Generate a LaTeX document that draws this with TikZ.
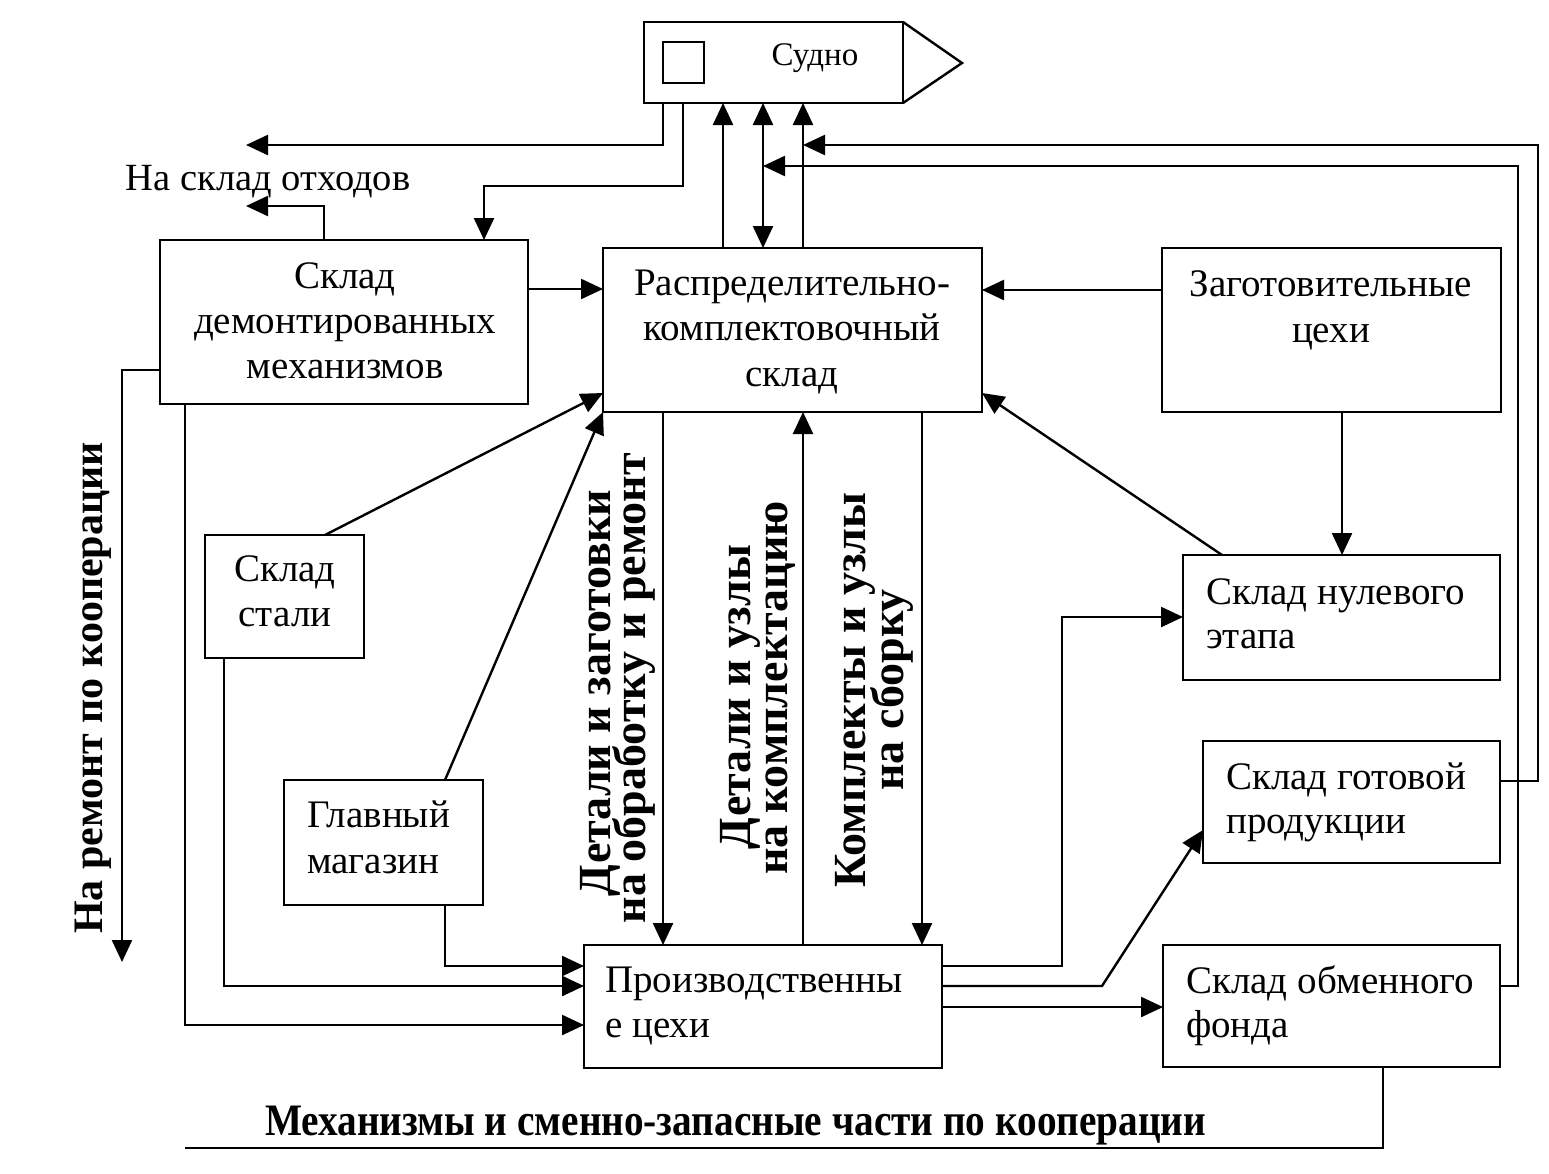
\documentclass[tikz,border=0pt]{standalone}
\usepackage{fontspec}
\usepackage{graphicx}
\setmainfont{Liberation Serif}
\usetikzlibrary{arrows.meta}
\begin{document}
\begin{tikzpicture}[x=1pt,y=-1pt,
  line width=2.4pt,
  tip/.style={-{Triangle[length=22pt,width=20pt]}},
  dtip/.style={{Triangle[length=22pt,width=20pt]}-{Triangle[length=22pt,width=20pt]}},
  box/.style={draw, line width=2.4pt, inner sep=0pt, outer sep=0pt, anchor=north west},
  lbl/.style={inner sep=0pt, anchor=base, font=\fontsize{39}{46}\selectfont},
  lblw/.style={inner sep=0pt, anchor=base west, font=\fontsize{39}{46}\selectfont},
  vlbl/.style={inner sep=0pt, anchor=base, rotate=90, font=\bfseries\fontsize{46}{46}\selectfont}]
\useasboundingbox (0,0) rectangle (1549,1173);

% boxes
\node[box, minimum width=259pt, minimum height=81pt] (sud) at (644,22) {};
\draw (sud.north east) -- (962,63) -- (sud.south east);
\node[box, minimum width=41pt, minimum height=41pt] (sq) at (663,42) {};
\node[box, minimum width=368pt, minimum height=164pt] (dem) at (160,240) {};
\node[box, minimum width=379pt, minimum height=164pt] (rks) at (603,248) {};
\node[box, minimum width=339pt, minimum height=164pt] (zag) at (1162,248) {};
\node[box, minimum width=159pt, minimum height=123pt] (stal) at (205,535) {};
\node[box, minimum width=199pt, minimum height=125pt] (glav) at (284,780) {};
\node[box, minimum width=317pt, minimum height=125pt] (nul) at (1183,555) {};
\node[box, minimum width=297pt, minimum height=122pt] (got) at (1203,741) {};
\node[box, minimum width=337pt, minimum height=122pt] (obm) at (1163,945) {};
\node[box, minimum width=358pt, minimum height=123pt] (prod) at (584,945) {};

% free ends
\coordinate (wasteA) at (246,145);
\coordinate (wasteB) at (246,206);
\coordinate (repair) at (122,962);
\coordinate (coopEnd) at (185,1148);

% texts
\node[inner sep=0pt, anchor=base, font=\fontsize{33}{38}\selectfont] (tsud) at (815,65) {Судно};
\node[inner sep=0pt, anchor=base, font=\fontsize{38.5}{44}\selectfont] (twaste) at (268,190) {На склад отходов};
\node[lbl] (tdem1) at (345,288) {Склад};
\node[lbl] (tdem2) at (345,333) {демонтированных};
\node[lbl] (tdem3) at (345,378) {механизмов};
\node[lbl] (trks1) at (792,295) {Распределительно-};
\node[lbl] (trks2) at (792,340) {комплектовочный};
\node[lbl] (trks3) at (792,386) {склад};
\node[lbl] (tzag1) at (1331,296) {Заготовительные};
\node[lbl] (tzag2) at (1331,342) {цехи};
\node[lbl] (tstal1) at (285,581) {Склад};
\node[lbl] (tstal2) at (285,626) {стали};
\node[lblw] (tglav1) at (306,827) {Главный};
\node[lblw] (tglav2) at (306,873) {магазин};
\node[lblw] (tnul1) at (1205,604) {Склад нулевого};
\node[lblw] (tnul2) at (1205,648) {этапа};
\node[lblw] (tgot1) at (1225,789) {Склад готовой};
\node[lblw] (tgot2) at (1225,833) {продукции};
\node[lblw] (tobm1) at (1185,993) {Склад обменного};
\node[lblw] (tobm2) at (1185,1037) {фонда};
\node[lblw] (tprod1) at (604,992) {Производственны};
\node[lblw] (tprod2) at (604,1037) {е цехи};

\node[vlbl, font=\bfseries\fontsize{42}{42}\selectfont] (trep) at (102,688) {На ремонт по кооперации};
\node[vlbl] (tv11) at (610,693) {Детали и заготовки};
\node[vlbl] (tv12) at (645,688) {на обработку и ремонт};
\node[vlbl] (tv21) at (750,697) {Детали и узлы};
\node[vlbl] (tv22) at (787,688) {на комплектацию};
\node[vlbl] (tv31) at (865,690) {Комплекты и узлы};
\node[vlbl] (tv32) at (903,690) {на сборку};

\node[inner sep=0pt, anchor=base west] (tcoop) at (264,1135) {\bfseries\fontsize{45}{45}\selectfont\scalebox{0.873}[1]{Механизмы и сменно-запасные части по кооперации}};

% connectors
\draw[tip] (sud.south -| 663,0) |- (wasteA);
\draw[tip] (sud.south -| 683,0) |- (484,186) -- (dem.north -| 484,0);
\draw[tip] (rks.north -| 723,0) -- (sud.south -| 723,0);
\draw[dtip] (rks.north -| 763,0) -- (sud.south -| 763,0);
\draw[tip] (rks.north -| 803,0) -- (sud.south -| 803,0);
\draw[tip] (got.east |- 0,781) -| (1538,145) -- (803,145);
\draw[tip] (obm.east |- 0,986) -| (1518,166) -- (763,166);
\draw[tip] (dem.east |- 0,289) -- (rks.west |- 0,289);
\draw[tip] (dem.north -| 324,0) |- (wasteB);
\draw[tip] (dem.west |- 0,370) -| (repair);
\draw[tip] (dem.south -| 185,0) |- (prod.west |- 0,1025);
\draw[tip] (zag.west |- 0,290) -- (rks.east |- 0,290);
\draw[tip] (zag.south -| 1342,0) -- (nul.north -| 1342,0);
\draw[tip] (nul.north -| 1222,0) -- (rks.east |- 0,393);
\draw[tip] (stal.north -| 325,0) -- (rks.west |- 0,393);
\draw[tip] (glav.north -| 445,0) -- (rks.south west);
\draw[tip] (rks.south -| 663,0) -- (prod.north -| 663,0);
\draw[tip] (prod.north -| 803,0) -- (rks.south -| 803,0);
\draw[tip] (rks.south -| 922,0) -- (prod.north -| 922,0);
\draw[tip] (glav.south -| 445,0) |- (prod.west |- 0,966);
\draw[tip] (stal.south -| 224,0) |- (prod.west |- 0,986);
\draw[tip] (prod.east |- 0,966) -| (1062,617) -- (nul.west |- 0,617);
\draw[tip] (prod.east |- 0,986) -- (1102,986) -- (got.west |- 0,830);
\draw[tip] (prod.east |- 0,1007) -- (obm.west |- 0,1007);
\draw (obm.south -| 1383,0) |- (coopEnd);
\end{tikzpicture}
\end{document}
